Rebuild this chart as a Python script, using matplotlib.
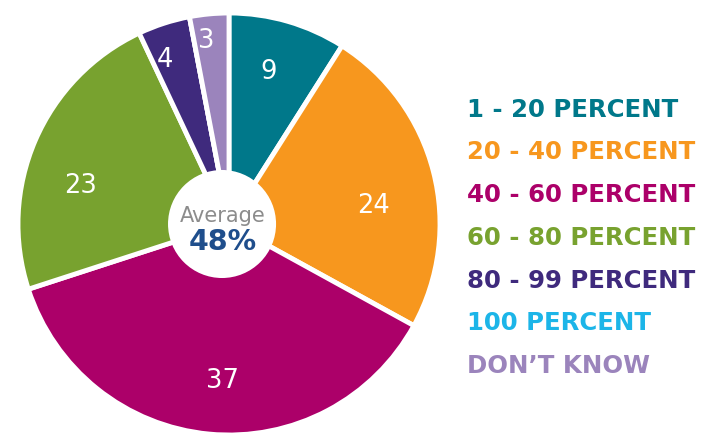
import matplotlib
matplotlib.use("Agg")
import numpy as np
import matplotlib.pyplot as plt
from matplotlib.patches import Circle

categories = ["1 - 20 PERCENT", "20 - 40 PERCENT", "40 - 60 PERCENT", "60 - 80 PERCENT",
              "80 - 99 PERCENT", "100 PERCENT", "DON\u2019T KNOW"]
values = [9, 24, 37, 23, 4, 0, 3]
colors = ["#00788A", "#F7971E", "#AC0069", "#78A22F", "#3F2A7D", "#1CB5E8", "#9B84BC"]
average_label = "Average"
average_value = "48%"

# label styling (distance from centre as fraction of radius, angular nudge in degrees)
label_dist = [0.76, 0.69, 0.73, 0.73, 0.85, 0.8, 0.89]
label_nudge = [-2, 6, -3, -8, -3, 0, -1.5]

W, H = 708, 436
fig = plt.figure(figsize=(W / 100, H / 100), dpi=100)
cx, cy, r = 229, 224, 211
ax = fig.add_axes([(cx - r) / W, (H - cy - r) / H, 2 * r / W, 2 * r / H])

wedges, _ = ax.pie(values, colors=colors, startangle=90, counterclock=False, radius=1,
                   wedgeprops=dict(edgecolor="white", linewidth=3.5))
ax.set_xlim(-1, 1)
ax.set_ylim(-1, 1)
ax.axis("off")

for w, v, d, nd in zip(wedges, values, label_dist, label_nudge):
    if v <= 0:
        continue
    mid = np.deg2rad((w.theta1 + w.theta2) / 2 - nd)
    ax.text(d * np.cos(mid), d * np.sin(mid), str(v), ha="center", va="center_baseline",
            color="white", fontsize=18.5, family="DejaVu Sans")

ax.add_patch(Circle((-0.033, 0.0), 0.256, facecolor="white", edgecolor="none", zorder=5))
ax.text(-0.028, 0.011, average_label, ha="center", va="baseline", fontsize=15,
        color="#8C8C8C", family="DejaVu Sans", zorder=6)
ax.text(-0.028, -0.123, average_value, ha="center", va="baseline", fontsize=20.5,
        color="#1F4E8C", family="DejaVu Sans", fontweight="bold", zorder=6)

y0 = 116.7
dy = 42.7
for i, (cat, col) in enumerate(zip(categories, colors)):
    fig.text(467 / W, 1 - (y0 + i * dy) / H, cat, ha="left", va="baseline",
             fontsize=17.6, color=col, family="DejaVu Sans", fontweight="bold")

fig.savefig("out.png", dpi=100, facecolor="white")
